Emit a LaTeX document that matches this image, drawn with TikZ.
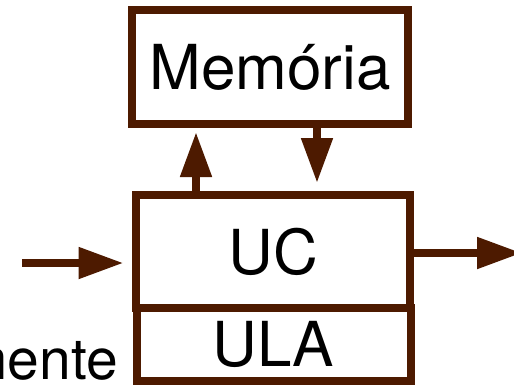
\documentclass[tikz,border=0pt]{standalone}
\usepackage{fontspec}
\setmainfont{TeX Gyre Heros}
\usetikzlibrary{arrows.meta}
\definecolor{marrom}{RGB}{77,26,0}

\begin{document}
\begin{tikzpicture}[x=1pt, y=-1pt, >={Triangle[length=45pt, width=30pt]},
    bloco/.style={draw=marrom, line width=8pt, inner sep=0pt, font=\fontsize{62}{62}\selectfont},
    seta/.style={->, draw=marrom, line width=8pt}]
  \fill[white] (0,0) rectangle (514,384);
  \useasboundingbox (0,0) rectangle (514,384);

  % blocos
  \node[bloco, minimum width=276pt, minimum height=114pt] (mem) at (270,67) {Memória};
  \node[bloco, minimum width=274pt, minimum height=113pt] (uc) at (273,251.5) {UC};
  \node[bloco, minimum width=274pt, minimum height=73pt] (ula) at (273.5,344.5) {ULA};
  \node[anchor=base east, inner sep=0pt, font=\fontsize{57}{57}\selectfont] (ext) at (118,379) {mente};

  % pontos soltos
  \coordinate (sobe) at (196,0);
  \coordinate (desce) at (317,0);
  \coordinate (ent) at (22,263);
  \coordinate (sai) at (522,253);

  % setas
  \draw[seta, shorten >=4pt] (uc.north -| sobe) -- (mem.south -| sobe);
  \draw[seta, shorten >=8pt] (mem.south -| desce) -- (uc.north -| desce);
  \draw[seta, shorten >=8.5pt] (ent) -- (ent -| uc.west);
  \draw[seta] (uc.east |- sai) -- (sai);
\end{tikzpicture}
\end{document}
